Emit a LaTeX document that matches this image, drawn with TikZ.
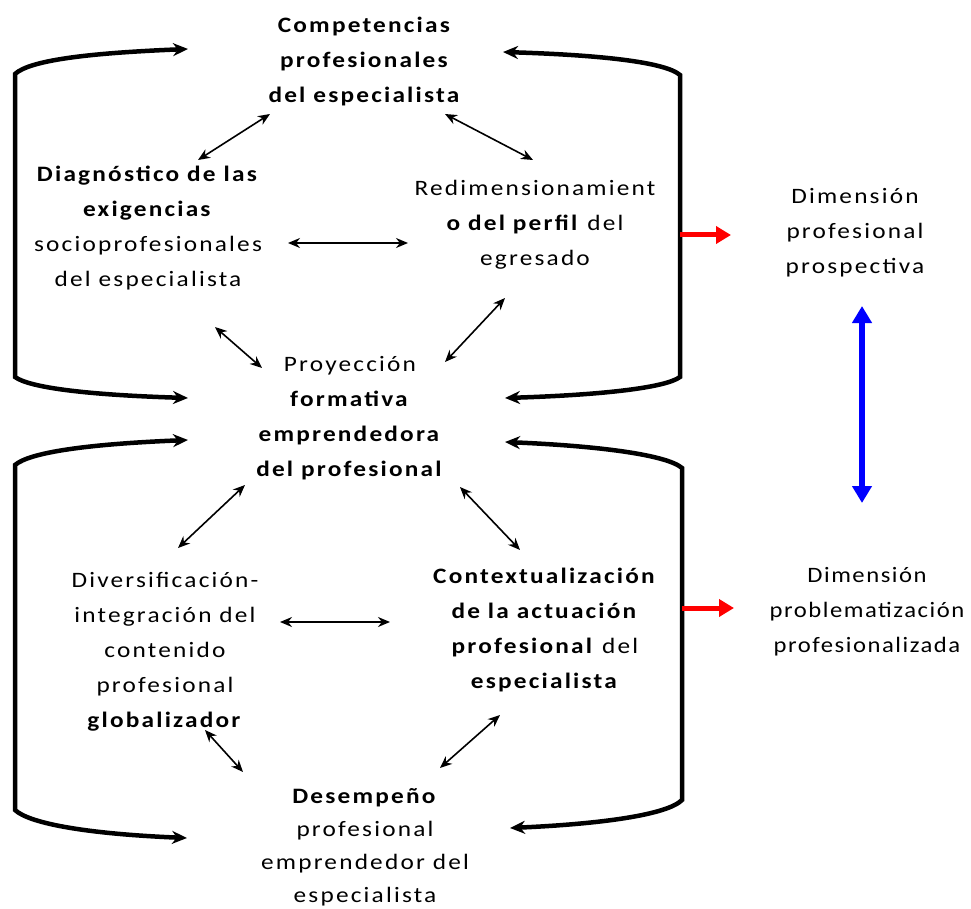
\documentclass[tikz,border=0pt]{standalone}
\usepackage{fontspec}
\setmainfont{Carlito}
\newfontfamily\wideface[FakeStretch=1.15,LetterSpace=10]{Carlito}
\newfontfamily\wideslim[FakeStretch=1.12,LetterSpace=7]{Carlito}
\usetikzlibrary{arrows.meta}
\begin{document}
\begin{tikzpicture}[x=1pt,y=-1pt,
 txt/.style={align=center,font=\wideface\fontsize{22}{35}\selectfont,inner sep=0pt},
 link/.style={line width=1.6pt,{Stealth[length=12pt,width=10pt]}-{Stealth[length=12pt,width=10pt]}},
 brk/.style={line width=4.5pt,{Stealth[length=15pt,width=13pt]}-{Stealth[length=15pt,width=13pt]}},
 redarr/.style={draw=red,line width=5pt,-{Triangle[length=15pt,width=17pt]}},
 bluearr/.style={draw=blue,line width=6pt,{Triangle[length=17pt,width=19pt]}-{Triangle[length=17pt,width=19pt]}}]
\useasboundingbox (0,0) rectangle (971,909);

% text nodes
\node[txt] (comp) at (365,62) {\textbf{Competencias}\\\textbf{profesionales}\\\textbf{del especialista}};
\node[txt] (diag) at (148,228) {\textbf{Diagnóstico de las}\\\textbf{exigencias}\\socioprofesionales\\del especialista};
\node[txt] (redi) at (535,225) {Redimensionamient\\\textbf{o del perfil} del\\egresado};
\node[txt] (proy) at (350,418) {Proyección\\\textbf{formativa}\\\textbf{emprendedora}\\\textbf{del profesional}};
\node[txt] (dive) at (165,652) {Diversificación-\\integración del\\contenido\\profesional\\\textbf{globalizador}};
\node[txt] (cont) at (545,630) {\textbf{Contextualización}\\\textbf{de la actuación}\\\textbf{profesional} del\\\textbf{especialista}};
\node[txt,font=\wideface\fontsize{22}{33}\selectfont] (dese) at (365,847) {\textbf{Desempeño}\\profesional\\emprendedor del\\especialista};
\node[txt] (dpro) at (855,233) {Dimensión\\profesional\\prospectiva};
\node[txt,font=\wideslim\fontsize{22}{35}\selectfont] (dprb) at (867,612) {Dimensión\\problematización\\profesionalizada};

% connector end points
\coordinate (c1a) at (270,114); \coordinate (c1b) at (198,160);
\coordinate (c2a) at (445,114); \coordinate (c2b) at (533,160);
\coordinate (c3a) at (288,243); \coordinate (c3b) at (408,243);
\coordinate (c4a) at (215,327); \coordinate (c4b) at (262,368);
\coordinate (c5a) at (505,298); \coordinate (c5b) at (445,362);
\coordinate (c6a) at (245,485); \coordinate (c6b) at (178,548);
\coordinate (c7a) at (460,487); \coordinate (c7b) at (520,550);
\coordinate (c8a) at (280,622); \coordinate (c8b) at (390,622);
\coordinate (c9a) at (205,730); \coordinate (c9b) at (243,772);
\coordinate (c10a) at (500,715); \coordinate (c10b) at (440,768);

\draw[link] (c1a) -- (c1b);
\draw[link] (c2a) -- (c2b);
\draw[link] (c3a) -- (c3b);
\draw[link] (c4a) -- (c4b);
\draw[link] (c5a) -- (c5b);
\draw[link] (c6a) -- (c6b);
\draw[link] (c7a) -- (c7b);
\draw[link] (c8a) -- (c8b);
\draw[link] (c9a) -- (c9b);
\draw[link] (c10a) -- (c10b);

% brackets
\coordinate (tlA) at (188,49); \coordinate (tlB) at (188,398);
\coordinate (trA) at (503,52); \coordinate (trB) at (505,398);
\coordinate (blA) at (188,440); \coordinate (blB) at (187,838);
\coordinate (brA) at (505,442); \coordinate (brB) at (510,828);

\draw[brk] (tlA) .. controls (90,53) and (30,60) .. (15,74) -- (15,377) .. controls (30,388) and (90,395) .. (tlB);
\draw[brk] (trA) .. controls (600,55) and (665,62) .. (680,75) -- (680,377) .. controls (665,388) and (600,395) .. (trB);
\draw[brk] (blA) .. controls (90,444) and (30,452) .. (15,465) -- (15,810) .. controls (30,824) and (90,834) .. (blB);
\draw[brk] (brA) .. controls (600,446) and (667,455) .. (682,468) -- (682,800) .. controls (667,815) and (600,824) .. (brB);

% red and blue arrows
\coordinate (r1a) at (680,235); \coordinate (r1b) at (731,235);
\coordinate (r2a) at (682,608); \coordinate (r2b) at (734,608);
\draw[redarr] (r1a) -- (r1b);
\draw[redarr] (r2a) -- (r2b);
\coordinate (b1) at (862,306); \coordinate (b2) at (862,503);
\draw[bluearr] (b1) -- (b2);
\end{tikzpicture}
\end{document}
